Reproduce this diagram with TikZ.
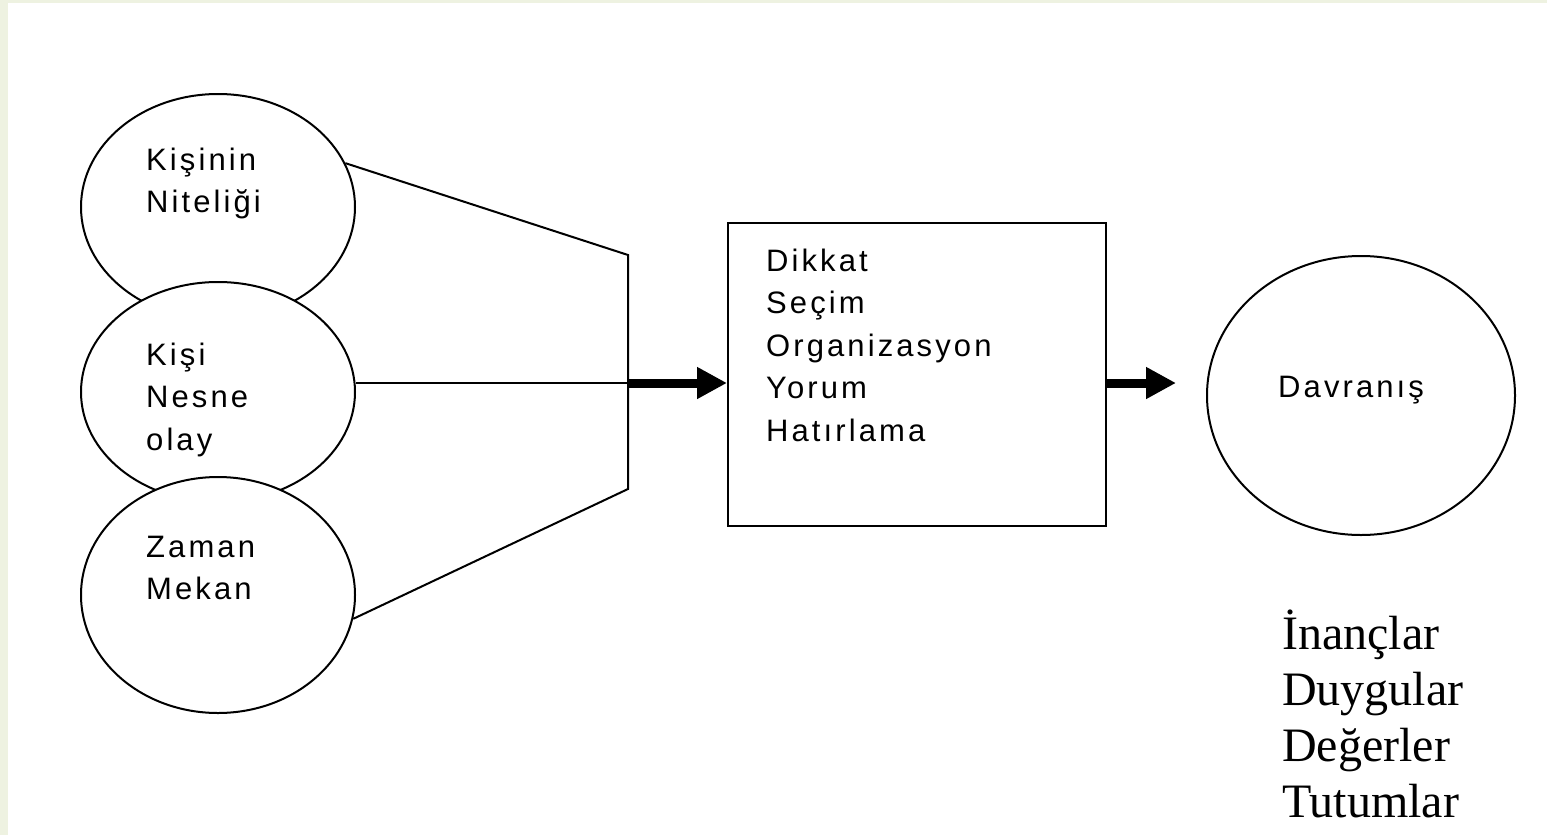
\documentclass[tikz,border=0pt]{standalone}
\usepackage{fontspec}
\setmainfont{Liberation Sans}
\newfontfamily\lblfont[LetterSpace=10]{Liberation Sans}
\newfontfamily\seriffont{Liberation Serif}
\usetikzlibrary{shapes.geometric,arrows.meta}
\definecolor{stripgreen}{RGB}{238,242,225}
\begin{document}
\begin{tikzpicture}[x=1pt,y=-1pt,
  oval/.style={ellipse, draw=black, line width=2pt, fill=white, inner sep=0pt},
  lbl/.style={font=\lblfont\fontsize{31}{42.5}\selectfont, align=left, inner sep=0pt, anchor=base west},
  thin/.style={line width=2pt},
  bigarrow/.style={line width=9pt, -{Triangle[length=30pt,width=30pt]}}]
\useasboundingbox (0,0) rectangle (1547,835);
\fill[white] (0,0) rectangle (1547,835);
\fill[stripgreen] (0,0) rectangle (8,835);
\fill[stripgreen] (0,0) rectangle (1547,3);
% circles on the left
\node[oval, minimum width=274pt, minimum height=226pt] (c1) at (218,207) {};
\node[oval, minimum width=274pt, minimum height=220pt] (c2) at (218,392) {};
\node[oval, minimum width=274pt, minimum height=236pt] (c3) at (218,595) {};
% box and right circle
\node[draw=black, line width=2pt, minimum width=378pt, minimum height=303pt, inner sep=0pt] (box) at (917,374.5) {};
\node[oval, minimum width=308pt, minimum height=279pt] (c4) at (1361,395.5) {};
% junction coordinates
\coordinate (jt) at (628,255);
\coordinate (jb) at (628,489);
\coordinate (jm) at (628,383);
\coordinate (tip2) at (1176,383);
% connectors
\draw[thin] (c1.19) -- (jt) -- (jb) -- (c3.-10);
\draw[thin] (c2.east |- jm) -- (jm);
\draw[bigarrow] (jm) -- (box.west |- jm);
\draw[bigarrow] (box.east |- jm) -- (tip2);
% labels (anchor = baseline of the last line)
\node[lbl] (t1) at (146,212.5) {Kişinin\\Niteliği};
\node[lbl] (t2) at (146,450) {Kişi\\Nesne\\olay};
\node[lbl] (t3) at (146,599.5) {Zaman\\Mekan};
\node[lbl] (t4) at (766,441) {Dikkat\\Seçim\\Organizasyon\\Yorum\\Hatırlama};
\node[lbl] (t5) at (1278,397) {Davranış};
\node[font=\seriffont\fontsize{48}{55.7}\selectfont, align=left, inner sep=0pt, anchor=base west] (t6) at (1282,817) {İnançlar\\Duygular\\Değerler\\Tutumlar};
\end{tikzpicture}
\end{document}
